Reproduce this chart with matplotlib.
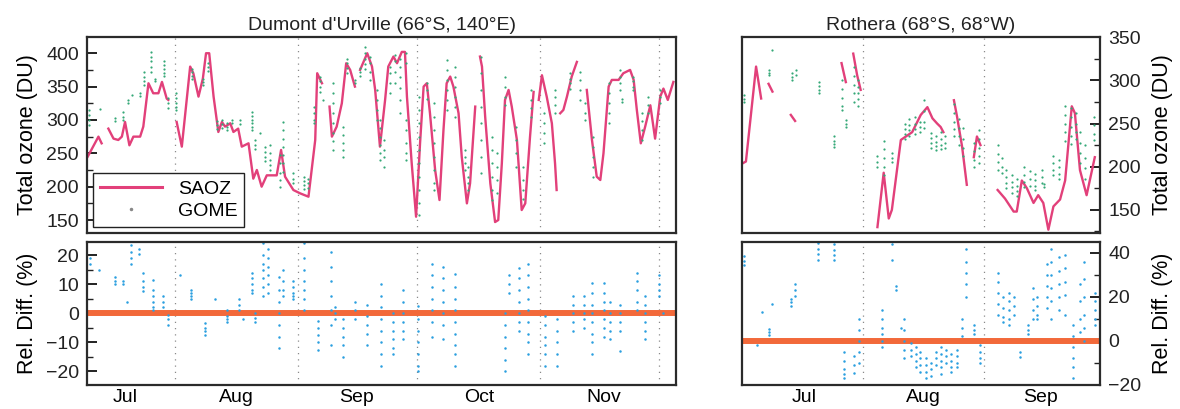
import matplotlib
matplotlib.use("Agg")
import matplotlib.pyplot as plt
from matplotlib.ticker import MultipleLocator
from matplotlib.lines import Line2D
import numpy as np

plt.rcParams['font.family'] = ['Liberation Sans', 'DejaVu Sans']

# days since 1 July
# ---- Dumont d'Urville SAOZ (segments) ----
saoz_dd_days = [
    [9.0, 11.7, 12.5],
    [14.2, 15.5, 16.7, 17.6, 18.4, 19.5, 20.5, 22.2, 23.0, 24.3, 25.5, 26.8, 27.7, 28.9, 29.3],
    [31.4, 32.7, 34.8, 35.6, 36.9, 38.0, 38.8, 39.6, 40.7, 41.9, 42.8, 43.6, 44.9, 45.7, 46.9,
     47.8, 49.5, 50.7, 51.6, 52.8, 54.1, 56.6, 57.7, 58.7, 60.8, 62.5, 64.6, 66.3, 66.8, 68.0],
    [69.9, 70.5, 71.7, 73.0, 74.1, 75.1, 76.3],
    [77.6, 79.4, 80.6, 81.4, 82.6, 83.9, 84.7, 86.0, 86.9, 88.1, 88.9, 89.4, 90.6, 91.7, 92.7,
     93.6, 94.4, 95.2, 96.5, 97.6, 98.6, 99.4, 100.3, 101.1, 102.4, 103.2, 104.5, 105.3, 106.6],
    [107.8, 108.3, 109.1, 110.4, 111.6, 112.4, 113.3, 114.1, 115.0, 115.8, 117.1, 118.3, 119.2, 120.4, 121.3],
    [122.6, 123.4, 124.6, 125.9, 126.7, 127.1],
    [128.0, 128.8, 129.7, 130.9, 132.2],
    [134.7, 136.0, 137.2, 138.1, 138.9, 140.2, 141.0, 142.7, 143.9, 145.6, 146.5, 147.3, 148.3,
     149.4, 150.7, 151.9, 153.2, 154.0, 155.1, 156.5],
]
saoz_dd_vals = [
    [245, 275, 265],
    [287, 272, 270, 275, 297, 262, 275, 275, 290, 355, 340, 340, 357, 332, 330],
    [297, 260, 380, 370, 335, 362, 400, 400, 335, 282, 297, 290, 295, 282, 287,
     260, 265, 212, 225, 200, 217, 217, 255, 215, 195, 190, 185, 270, 370, 355],
    [320, 275, 290, 325, 385, 375, 350],
    [375, 400, 380, 345, 260, 330, 380, 395, 385, 402, 402, 335, 235, 155, 265,
     350, 355, 310, 225, 180, 285, 355, 365, 350, 310, 245, 175, 205, 320],
    [395, 380, 305, 205, 147, 150, 235, 330, 345, 320, 270, 165, 175, 275, 342],
    [330, 367, 335, 295, 235, 195],
    [310, 315, 335, 365, 387],
    [345, 270, 215, 210, 250, 350, 360, 360, 370, 375, 360, 315, 265,
     290, 322, 272, 335, 347, 330, 357],
]

# ---- Dumont d'Urville GOME (columns of overpasses) ----
gome_dd_days = [9.2, 12.1, 15.9, 18.0, 19.2, 20.1, 22.2, 23.3, 25.0, 26.0, 28.2, 29.2, 31.3,
                35.2, 38.1, 39.2, 41.5, 42.8, 44.2, 45.4, 47.4, 50.3, 51.2, 52.4, 53.7, 55.0,
                57.5, 58.3, 60.8, 63.5, 64.6, 66.1, 67.5, 68.2, 70.9, 73.2, 74.3, 76.3, 77.6,
                78.8, 80.1, 81.8, 82.6, 83.5, 85.2, 86.5, 87.6, 89.2, 92.4, 94.4, 96.2, 99.4,
                101.5, 104.0, 104.9, 108.0, 110.8, 112.0, 114.0, 116.8, 118.6, 120.6, 124.0,
                126.7, 130.5, 133.0, 134.3, 136.2, 140.3, 143.1, 143.5, 146.4, 148.6, 150.1, 153.2]
gome_dd_vals = [
    [315, 308, 300, 292], [317], [303, 298], [312, 305, 300], [330, 325], [338], [340, 336],
    [372, 365, 358, 352], [402, 395, 388, 380, 372], [362, 358], [388, 382, 376, 370, 366],
    [333, 326, 318], [340, 333, 326, 320, 315], [377, 372, 366, 362], [362, 357, 352],
    [386, 380, 374], [298, 292, 287], [300, 294, 288], [296, 290, 285], [300, 295], [300, 294],
    [312, 306, 300, 295, 290, 285], [270, 262, 256], [280], [260, 252, 245, 238],
    [262, 250, 240, 232, 225], [248, 235, 220, 210, 200], [297, 285, 272, 260, 248, 235, 222],
    [220, 212, 206], [215, 208, 202, 197], [212, 205, 198], [320, 310, 300, 295],
    [365, 358, 350, 342], [330], [355, 340, 325, 310, 295, 280, 268, 255],
    [290, 278, 265, 255, 245], [392, 385, 378, 370], [360, 355], [378, 372, 366],
    [410, 400, 392, 384, 376], [395, 385, 372, 360], [345, 330, 315, 300],
    [300, 288, 275, 262, 250, 240], [270, 255, 245, 230], [380, 370, 355, 340],
    [397, 388, 372, 356], [392, 380, 365, 348, 330, 310], [400, 385, 300, 285, 265, 250, 240],
    [335, 315, 295, 275, 255, 235, 215, 195, 175, 158], [355, 345, 332],
    [325, 305, 285, 265, 245, 225, 205, 195], [390, 375, 360, 345, 330, 315],
    [380, 365, 350, 335, 320, 305], [255, 245, 235, 225], [230, 215, 205, 195],
    [395, 370, 345, 320, 295, 270, 245, 220], [275, 255, 235, 215, 195, 180],
    [250, 230, 210, 190], [365, 350, 335, 322], [290, 270, 250, 230], [230, 210, 195, 182],
    [345, 330, 318, 305], [310, 295, 280, 265], [345, 335, 322, 310], [370, 362, 355, 346],
    [372, 360, 345, 330], [325, 310, 300], [275, 260, 245, 230, 215],
    [355, 340, 325, 310, 295], [375, 365, 355, 345], [332, 327], [365, 358, 350, 345],
    [310, 298, 285, 270], [335, 322, 310], [345, 335, 325],
]

# ---- Dumont d'Urville relative difference (%) ----
rd_dd_days = [9.6, 11.9, 15.9, 18.0, 18.8, 19.9, 22.0, 23.0, 25.5, 28.0, 29.2, 32.3, 35.0, 38.6,
              41.1, 44.0, 47.2, 48.2, 50.3, 51.2, 53.2, 54.4, 57.3, 58.3, 60.8, 63.5, 66.9, 70.3,
              71.3, 73.4, 76.3, 79.3, 82.9, 86.0, 88.5, 92.3, 95.7, 98.6, 101.5, 114.1, 115.0,
              117.5, 120.0, 124.2, 127.1, 131.1, 133.9, 136.0, 139.0, 140.5, 143.1, 147.3,
              149.4, 152.8, 154.0]
rd_dd_vals = [
    [19, 17], [15], [12.5, 11, 10], [11, 10], [4], [23.4, 21, 19, 17], [22, 20.5],
    [14, 11, 9, 7.5], [11.5, 8, 6, 4, 2, 1], [6, 4, 2], [-0.5, -2, -4], [13], [8, 7, 6, 5],
    [-3.5, -5, -6, -7.5], [5], [1, -1, -2, -3], [5, 3, 1], [-2], [14, 12, 10, 8, 7],
    [0, -1.5, -3], [24, 20, 17, 15, 12, 9, 6], [22, 19, 16, 13, 10, 7],
    [12.5, 8, 4, 0, -4, -8, -12], [15, 11, 8, 6], [11, 9, 7, 6, 5],
    [24, 19, 15, 11, 8, 5, 1], [-2.5, -5, -7.5, -10, -12.5], [21, 16, 11, 6, 1, -4, -11],
    [2, 0, -2], [-2, -5, -8, -11, -15], [4, 1, -2], [3, -1, -4, -7, -11],
    [10, 6, 2, -2, -6, -10, -14, -18], [0, -3, -6, -9, -12, -14], [8, 4, 0, -3, -6, -9],
    [2.5, -2, -6, -10, -14, -18, -20], [17, 13, 9, 5, 1, -3, -8], [16, 12, 8, 4, 0, -4, -9],
    [13.5, 9, 5, 1, -3, -7, -11, -14, -18], [0, -4, -8, -12, -16, -20], [13, 10, 7],
    [15.5, 12, 8, 4, 0, -3, -6], [17, 13, 9, 5, 1, -3, -7, -10, -14],
    [-1, -4, -8, -11, -14, -18], [-2, -6, -10, -14, -18], [6, 3, 0, -3, -6],
    [6, 3, 0, -2, -5], [10.5, 7, 3, 0, -3, -7, -10, -14], [10.5, 7, 4, 1, -2, -5, -8],
    [4, 0, -3, -6, -9], [3, 0, -3, -6, -13], [14, 11, 8, 4, 1], [6, 3, 0, -3, -6, -9],
    [13, 10, 8, 6], [0],
]

# ---- Rothera SAOZ (segments) ----
saoz_ro_days = [
    [0.3, 1.1, 3.7, 5.0],
    [6.9, 7.9],
    [12.6, 13.7],
    [25.6, 26.7],
    [28.6, 29.6, 30.5],
    [34.8, 36.4, 37.7, 38.5, 40.8, 43.7, 45.9, 47.6, 48.9, 50.1, 51.0, 51.7],
    [54.4, 55.2, 56.5, 57.7],
    [59.5, 60.3, 61.2],
    [65.6, 67.5, 69.7, 70.5, 71.8, 73.1, 74.8, 76.0, 77.3, 78.6, 79.9, 81.6, 82.9, 84.6, 85.4,
     86.7, 88.4, 90.5],
]
saoz_ro_vals = [
    [204, 206, 316, 279],
    [296, 287],
    [260, 253],
    [320, 298],
    [331, 306, 289],
    [130, 193, 140, 150, 231, 240, 260, 269, 256, 250, 246, 240],
    [277, 258, 223, 179],
    [211, 235, 225],
    [173, 163, 148, 148, 184, 175, 158, 167, 158, 127, 154, 162, 184, 270, 262,
     196, 167, 211],
]

# ---- Rothera GOME ----
gome_ro_days = [0.7, 6.9, 7.8, 12.9, 13.9, 19.7, 23.7, 25.6, 26.7, 28.8, 29.8, 34.7, 36.4, 38.5,
                41.8, 43.0, 44.3, 45.6, 46.8, 48.6, 49.8, 51.2, 52.2, 54.5, 55.6, 56.8, 59.6,
                60.8, 65.7, 66.8, 67.8, 69.2, 70.6, 72.4, 73.8, 75.3, 76.9, 77.6, 79.8, 81.2,
                82.8, 84.3, 85.7, 86.8, 88.0, 90.3]
gome_ro_vals = [
    [283, 279, 275], [312, 309, 306], [335], [308, 304, 300], [312, 306], [298, 293, 289, 285],
    [235, 230, 226, 223], [300, 290, 280, 270, 266], [254, 250, 246], [316, 305, 295, 285, 275],
    [300, 292, 285, 278, 270], [212, 206, 200], [230, 220, 210, 200, 190], [216, 210, 205],
    [250, 244, 238, 232], [255, 248, 242, 236], [258, 250, 244, 238], [252, 246, 240],
    [277, 265, 252, 245], [239, 233, 228, 222], [236, 229, 224, 219], [240, 232, 225, 220],
    [235, 228, 222], [273, 262, 252, 244, 236], [255, 245, 235, 225], [245, 232, 222, 212],
    [228, 218, 208, 200], [242, 232, 222, 212, 204], [225, 215, 205, 196], [210, 200, 193],
    [196, 188, 181, 175], [190, 182, 176, 170], [186, 178, 172, 166], [200, 190, 182, 176],
    [195, 186, 178], [192, 185, 178, 173], [196, 188, 181], [180, 176], [212, 204, 196, 190],
    [208, 200, 192, 186], [270, 260, 250, 240, 230], [268, 258, 246, 236, 226],
    [262, 250, 240, 232], [240, 228, 216, 204], [225, 210, 198, 186], [258, 248, 238, 231],
]

# ---- Rothera relative difference (%) ----
rd_ro_days = [0.6, 4.0, 5.1, 6.9, 7.8, 12.7, 13.7, 19.5, 23.6, 26.2, 28.9, 30.0, 35.9, 38.6, 39.5,
              40.8, 41.6, 43.5, 44.6, 45.8, 47.2, 48.4, 49.8, 51.0, 52.3, 53.6, 55.2, 56.5, 57.6,
              59.5, 61.2, 65.8, 67.0, 68.6, 69.8, 71.4, 73.3, 74.6, 75.8, 78.2, 79.4, 81.2, 82.8,
              85.0, 86.6, 87.8, 90.5]
rd_ro_vals = [
    [38.5, 36.5, 34.7], [-2], [13], [5.5, 4, 2.5], [17], [19, 17.5, 16], [25.7, 23, 20.5],
    [44.5, 42, 39.5, 37], [44, 41.5, 39, 37], [-5, -9, -13, -15, -17], [-7, -11, -14.5],
    [10, 5, 0, -5, -10], [14, 10, 6, 3, 0, -3], [44, 37], [25, 23], [6], [10, 5, 0, -4, -8],
    [-1, -4, -7], [-3, -6, -9, -12], [-5, -8, -11, -14], [-8, -11, -14, -17], [-10, -13, -16],
    [-5, -8, -11], [-3, -6, -9, -12, -15], [-4, -7, -10], [-6, -9, -12, -14], [-4, -7, -10, -12],
    [10, 6, 2], [42, 36, 31, 26, 20], [7, 5, 3], [-2, -5, -8, -10], [31, 27, 22, 17, 12],
    [20, 15, 11, 8.5], [22, 18, 14, 10, 7], [20, 16, 12], [-5, -7.5], [7, 5, 3],
    [24, 19, 14, 10], [20, 16, 12, 10], [35, 30, 25, 20, 15], [42, 36, 30, 24, 18, 10],
    [38, 32, 26, 20, 14], [39, 33, 27, 21, 12], [7, 2, -3, -8, -12, -17], [26, 18, 10, 4],
    [36, 28, 20, 12, 6, 0], [22, 18, 14, 10, 7],
]

month_names = ['Jul', 'Aug', 'Sep', 'Oct', 'Nov']
month_starts = [31, 62, 92, 123, 153]
dd_label_pos = [18.5, 46.5, 76.8, 107.5, 139.0]
ro_label_pos = [16.0, 46.5, 76.5]

SAOZ_C = '#e2407a'
GOME_C = '#34a878'
RD_C = '#2b9fe0'
ZERO_C = '#f2693a'
FRAME_C = '#2b2b2b'


def flat(days, vals):
    x, y = [], []
    for d, vs in zip(days, vals):
        for v in vs:
            x.append(d)
            y.append(v)
    return x, y


def style(ax, side):
    for s in ax.spines.values():
        s.set_linewidth(1.6)
        s.set_color(FRAME_C)
    ax.tick_params(axis='y', which='both', direction='in', left=(side == 'left'),
                   right=(side == 'right'), labelleft=(side == 'left'),
                   labelright=(side == 'right'), labelsize=14, colors='#222222', pad=6)
    ax.tick_params(axis='y', which='major', length=7, width=1.4)
    ax.tick_params(axis='y', which='minor', length=4, width=1.0)
    ax.tick_params(axis='x', which='both', length=0, labelsize=14, pad=3)
    if side == 'right':
        ax.yaxis.set_label_position('right')


fig = plt.figure(figsize=(11.8, 4.09), dpi=100)

top_b, top_h = 0.431, 0.478
bot_b, bot_h = 0.059, 0.350
ax1 = fig.add_axes([0.074, top_b, 0.499, top_h])
ax2 = fig.add_axes([0.074, bot_b, 0.499, bot_h])
ax3 = fig.add_axes([0.6285, top_b, 0.3036, top_h])
ax4 = fig.add_axes([0.6285, bot_b, 0.3036, bot_h])

# Dumont d'Urville ozone
for ms in month_starts:
    ax1.axvline(ms, color='#8a8a8a', lw=0.9, ls=(0, (1, 4)))
    ax2.axvline(ms, color='#8a8a8a', lw=0.9, ls=(0, (1, 4)))
for d, v in zip(saoz_dd_days, saoz_dd_vals):
    ax1.plot(d, v, color=SAOZ_C, lw=1.7)
gx, gy = flat(gome_dd_days, gome_dd_vals)
ax1.plot(gx, gy, 'o', color=GOME_C, ms=1.6, mew=0)
ax1.set_xlim(8.9, 157.2)
ax1.set_ylim(131, 424)
ax1.yaxis.set_major_locator(MultipleLocator(50))
ax1.yaxis.set_minor_locator(MultipleLocator(25))
ax1.set_xticks([])
ax1.set_ylabel('Total ozone (DU)', fontsize=15.5, labelpad=6)
ax1.set_title("Dumont d'Urville (66°S, 140°E)", fontsize=14, pad=5, color='#222222')
style(ax1, 'left')
handles = [Line2D([], [], color=SAOZ_C, lw=2.2),
           Line2D([], [], ls='none', marker='o', ms=1.5, color='#888888')]
leg = ax1.legend(handles, ['SAOZ', 'GOME'], loc='lower left', fontsize=14,
                 frameon=True, fancybox=False, framealpha=1, edgecolor='#222222',
                 borderaxespad=0.3, handlelength=3.2, labelspacing=0.25, borderpad=0.35)
leg.get_frame().set_linewidth(1.0)

# Dumont d'Urville rel diff
ax2.axhline(0, color=ZERO_C, lw=4.3)
rx, ry = flat(rd_dd_days, rd_dd_vals)
ax2.plot(rx, ry, 'o', color=RD_C, ms=1.8, mew=0)
ax2.set_xlim(8.9, 157.2)
ax2.set_ylim(-24.6, 24.6)
ax2.yaxis.set_major_locator(MultipleLocator(10))
ax2.yaxis.set_minor_locator(MultipleLocator(5))
ax2.set_xticks(dd_label_pos)
ax2.set_xticklabels(month_names)
ax2.set_ylabel('Rel. Diff. (%)', fontsize=15.5, labelpad=6)
style(ax2, 'left')

# Rothera ozone
for ms in month_starts[:2]:
    ax3.axvline(ms, color='#8a8a8a', lw=0.9, ls=(0, (1, 4)))
    ax4.axvline(ms, color='#8a8a8a', lw=0.9, ls=(0, (1, 4)))
for d, v in zip(saoz_ro_days, saoz_ro_vals):
    ax3.plot(d, v, color=SAOZ_C, lw=1.7)
gx, gy = flat(gome_ro_days, gome_ro_vals)
ax3.plot(gx, gy, 'o', color=GOME_C, ms=1.6, mew=0)
ax3.set_xlim(0, 91.8)
ax3.set_ylim(123.5, 350)
ax3.yaxis.set_major_locator(MultipleLocator(50))
ax3.yaxis.set_minor_locator(MultipleLocator(25))
ax3.set_xticks([])
ax3.set_title('Rothera (68°S, 68°W)', fontsize=14, pad=5, color='#222222')
style(ax3, 'right')
ax3.set_ylabel('Total ozone (DU)', fontsize=15.5, labelpad=8)

# Rothera rel diff
ax4.axhline(0, color=ZERO_C, lw=4.3)
rx, ry = flat(rd_ro_days, rd_ro_vals)
ax4.plot(rx, ry, 'o', color=RD_C, ms=1.8, mew=0)
ax4.set_xlim(0, 91.8)
ax4.set_ylim(-20, 45.1)
ax4.yaxis.set_major_locator(MultipleLocator(20))
ax4.yaxis.set_minor_locator(MultipleLocator(10))
ax4.set_xticks(ro_label_pos)
ax4.set_xticklabels(month_names[:3])
style(ax4, 'right')
ax4.set_ylabel('Rel. Diff. (%)', fontsize=15.5, labelpad=8)

fig.savefig('out.png', dpi=100)
